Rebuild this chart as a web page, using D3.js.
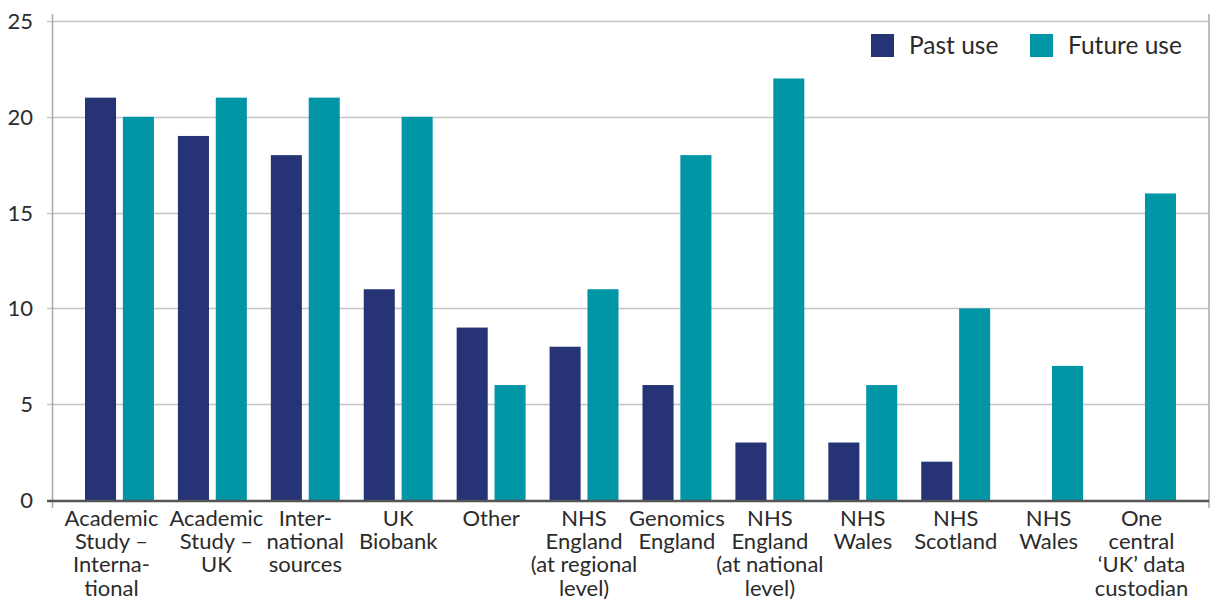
<!DOCTYPE html>
<html>
<head>
<meta charset="utf-8">
<script src="https://cdn.jsdelivr.net/npm/d3@7"></script>
<style>
  body { margin: 0; background: #fff; }
  svg text { font-family: Lato, "Source Sans Pro", "Noto Sans", sans-serif; fill: #2b2b2b; }
</style>
</head>
<body>
<svg id="chart" width="1213" height="602"></svg>
<script>
// data
const categories = [
  ["Academic", "Study \u2013", "Interna-", "tional"],
  ["Academic", "Study \u2013", "UK"],
  ["Inter-", "national", "sources"],
  ["UK", "Biobank"],
  ["Other"],
  ["NHS", "England", "(at regional", "level)"],
  ["Genomics", "England"],
  ["NHS", "England", "(at national", "level)"],
  ["NHS", "Wales"],
  ["NHS", "Scotland"],
  ["NHS", "Wales"],
  ["One", "central", "\u2018UK\u2019 data", "custodian"]
];
const pastUse   = [21, 19, 18, 11, 9, 8, 6, 3, 3, 2, 0, 0];
const futureUse = [20, 21, 21, 20, 6, 11, 18, 22, 6, 10, 7, 16];
const seriesNames = ["Past use", "Future use"];
const colors = ["#263476", "#0096a6"];
const yTicks = [0, 5, 10, 15, 20, 25];

const svg = d3.select("svg#chart");
const plotLeft = 52.5, plotRight = 1209, plotTop = 21, plotBottom = 500;

let x = d3.scaleBand()
  .domain(d3.range(categories.length))
  .range([73, 1188])
  .paddingInner(0).paddingOuter(0);

let xs = d3.scaleBand()
  .domain([0, 1])
  .range([12, x.bandwidth() - 12])
  .paddingInner(0.18);

let y = d3.scaleLinear().domain([0, 25]).range([plotBottom, plotTop]);

// gridlines
svg.append("g")
  .selectAll("line")
  .data(yTicks.filter(d => d > 0))
  .enter().append("line")
    .attr("x1", 47).attr("x2", plotRight)
    .attr("y1", d => Math.round(y(d)) + 0.5)
    .attr("y2", d => Math.round(y(d)) + 0.5)
    .attr("stroke", "#c4c4c4")
    .attr("stroke-width", 1.5);

// frame verticals
svg.append("line")
  .attr("x1", plotLeft).attr("x2", plotLeft).attr("y1", 14).attr("y2", 508)
  .attr("stroke", "#a8a8a8").attr("stroke-width", 1.5);
svg.append("line")
  .attr("x1", plotRight).attr("x2", plotRight).attr("y1", 14).attr("y2", 508)
  .attr("stroke", "#a8a8a8").attr("stroke-width", 1.5);

// y tick labels
svg.append("g")
  .selectAll("text")
  .data(yTicks)
  .enter().append("text")
    .attr("x", 33)
    .attr("y", d => y(d))
    .attr("dy", "0.36em")
    .attr("text-anchor", "end")
    .style("font-size", "22px")
    .text(d => d);

// bars
let groups = svg.append("g").attr("class", "bars")
  .selectAll("g")
  .data(categories.map((c, i) => [pastUse[i], futureUse[i]]))
  .enter().append("g")
    .attr("transform", (d, i) => "translate(" + x(i) + ",0)");

groups.selectAll("rect")
  .data(d => d)
  .enter().append("rect")
    .attr("x", (d, j) => xs(j))
    .attr("width", xs.bandwidth())
    .attr("y", d => y(d))
    .attr("height", d => plotBottom - y(d))
    .attr("fill", (d, j) => colors[j]);

// x axis line
svg.append("line")
  .attr("x1", 47).attr("x2", plotRight)
  .attr("y1", plotBottom + 1).attr("y2", plotBottom + 1)
  .attr("stroke", "#555").attr("stroke-width", 2.5);

// category labels
// first two labels are nudged apart like in the original layout
const labelShift = [-8, 4, 0, 0, 0, 0, 0, 0, 0, 0, 0, 0];
let labels = svg.append("g")
  .selectAll("text")
  .data(categories)
  .enter().append("text")
    .attr("text-anchor", "middle")
    .attr("transform", (d, i) => "translate(" + (x(i) + x.bandwidth() / 2 + labelShift[i]) + ",526)")
    .style("font-size", "22px");

labels.selectAll("tspan")
  .data(d => d)
  .enter().append("tspan")
    .attr("x", 0)
    .attr("y", (d, i) => i * 23.2)
    .text(d => d);

// legend
let legend = svg.append("g").attr("class", "legend");
const legendX = [871, 1030];
seriesNames.forEach(function(name, i) {
  legend.append("rect")
    .attr("x", legendX[i]).attr("y", 34)
    .attr("width", 23).attr("height", 23)
    .attr("fill", colors[i]);
  legend.append("text")
    .attr("x", legendX[i] + 38).attr("y", 45.5)
    .attr("dy", "0.36em")
    .style("font-size", "24.5px")
    .text(name);
});
</script>
</body>
</html>
